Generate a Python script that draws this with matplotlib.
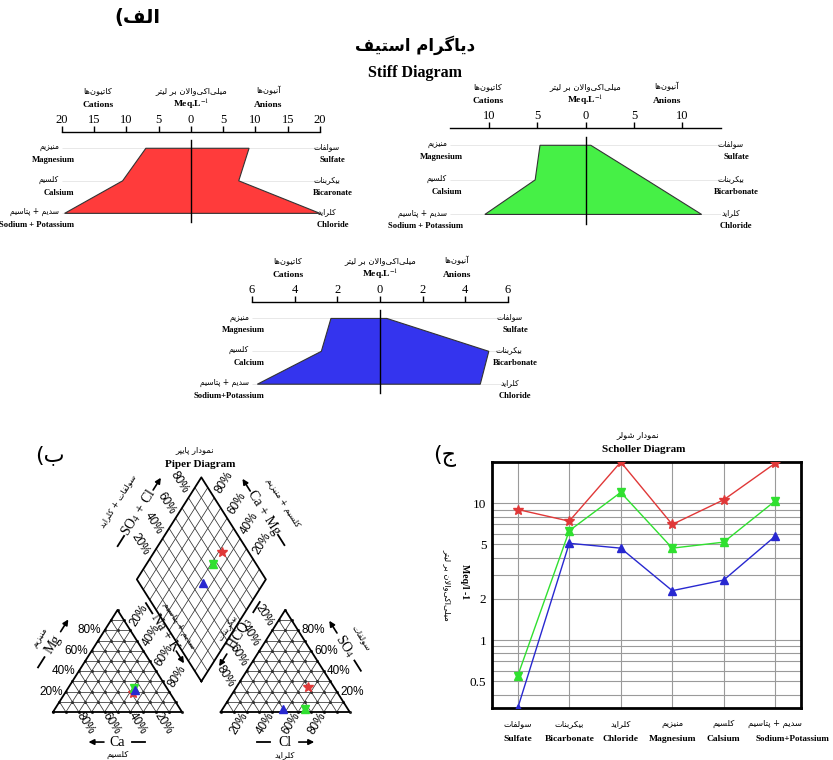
import numpy as np
import matplotlib
matplotlib.use('Agg')
import matplotlib.pyplot as plt
from matplotlib.ticker import FixedLocator, FuncFormatter, NullFormatter

plt.rcParams['font.family'] = 'Liberation Serif'
plt.rcParams['mathtext.fontset'] = 'stix'

# ion concentrations (meq/L), one entry per sample: red, green, blue
mg = [7.0, 4.7, 2.3]
ca = [10.6, 5.2, 2.75]
na_k = [19.6, 10.4, 5.75]
so4 = [9.0, 0.55, 0.32]
hco3 = [7.4, 6.3, 5.1]
cl = [20.0, 12.0, 4.7]

fill_colors = ['#ff3b3b', '#46f046', '#3434ee']
line_colors = ['#e03838', '#30e030', '#2828d0']

# stiff diagram scales
stiff_lim = [20, 14, 6]
stiff_step = [5, 5, 2]
stiff_left_en = [['Magnesium', 'Calsium', 'Sodium + Potassium'],
                 ['Magnesium', 'Calsium', 'Sodium + Potassium'],
                 ['Magnesium', 'Calcium', 'Sodium+Potassium']]
stiff_right_en = [['Sulfate', 'Bicaronate', 'Chloride'],
                  ['Sulfate', 'Bicarbonate', 'Chloride'],
                  ['Sulfate', 'Bicarbonate', 'Chloride']]
cation_fa = ['منیزیم', 'کلسیم', 'سدیم + پتاسیم']
anion_fa = ['سولفات', 'بیکربنات', 'کلراید']

# scholler categories
sch_en = ['Sulfate', 'Bicarbonate', 'Chloride', 'Magnesium', 'Calsium', 'Sodium+Potassium']
sch_fa = ['سولفات', 'بیکربنات', 'کلراید', 'منیزیم', 'کلسیم', 'سدیم + پتاسیم']
sch_ticks = [0.5, 1, 2, 5, 10]

# --- minimal persian shaping (presentation forms + visual order) ---
FORMS = {
    'ا': ('\uFE8D', '\uFE8E'), 'آ': ('\uFE81', '\uFE82'),
    'د': ('\uFEA9', '\uFEAA'), 'ر': ('\uFEAD', '\uFEAE'),
    'ز': ('\uFEAF', '\uFEB0'), 'و': ('\uFEED', '\uFEEE'),
    'لا': ('\uFEFB', '\uFEFC'),
    'ب': ('\uFE8F', '\uFE90', '\uFE91', '\uFE92'),
    'پ': ('\uFB56', '\uFB57', '\uFB58', '\uFB59'),
    'ت': ('\uFE95', '\uFE96', '\uFE97', '\uFE98'),
    'ج': ('\uFE9D', '\uFE9E', '\uFE9F', '\uFEA0'),
    'س': ('\uFEB1', '\uFEB2', '\uFEB3', '\uFEB4'),
    'ش': ('\uFEB5', '\uFEB6', '\uFEB7', '\uFEB8'),
    'ف': ('\uFED1', '\uFED2', '\uFED3', '\uFED4'),
    'ک': ('\uFB8E', '\uFB8F', '\uFB90', '\uFB91'),
    'گ': ('\uFB92', '\uFB93', '\uFB94', '\uFB95'),
    'ل': ('\uFEDD', '\uFEDE', '\uFEDF', '\uFEE0'),
    'م': ('\uFEE1', '\uFEE2', '\uFEE3', '\uFEE4'),
    'ن': ('\uFEE5', '\uFEE6', '\uFEE7', '\uFEE8'),
    'ه': ('\uFEE9', '\uFEEA', '\uFEEB', '\uFEEC'),
    'ی': ('\uFBFC', '\uFBFD', '\uFBFE', '\uFBFF'),
}


def fa(s):
    toks, i = [], 0
    while i < len(s):
        if s[i:i + 2] == 'لا':
            toks.append('لا')
            i += 2
        else:
            toks.append(s[i])
            i += 1
    out = []
    for k, t in enumerate(toks):
        if t not in FORMS:
            if t != '\u200c':
                out.append(t)
            continue
        f = FORMS[t]
        prev = toks[k - 1] if k > 0 else ''
        nxt = toks[k + 1] if k + 1 < len(toks) else ''
        jp = prev in FORMS and len(FORMS[prev]) == 4
        jn = len(f) == 4 and nxt in FORMS
        out.append(f[3] if jp and jn else f[1] if jp else f[2] if jn else f[0])
    return ''.join(reversed(out)).translate(str.maketrans('()', ')('))


FA = 'DejaVu Sans'
W, H = 833, 760
fig = plt.figure(figsize=(W / 100, H / 100), dpi=100)


def box(left, top, right, bottom):
    return [left / W, 1 - bottom / H, (right - left) / W, (bottom - top) / H]


def ftext(px, py, s, **kw):
    fig.text(px / W, 1 - py / H, s, ha='center', va='center', **kw)


# ================= (الف) stiff diagrams =================
ftext(137, 18, fa('الف)'), family=FA, fontsize=14, fontweight='bold')
ftext(415, 45, fa('دیاگرام استیف'), family=FA, fontsize=12, fontweight='bold')
ftext(415, 73, 'Stiff Diagram', fontsize=11.5, fontweight='bold')

stiff_boxes = [(62, 132, 320, 228), (450, 128, 721, 230), (252, 302, 508, 399)]
right_pad = [9, 11, 5]

for k in range(3):
    ax = fig.add_axes(box(*stiff_boxes[k]))
    lim, step = stiff_lim[k], stiff_step[k]
    xs = [-mg[k], -ca[k], -na_k[k], cl[k], hco3[k], so4[k]]
    ys = [0, 1, 2, 2, 1, 0]
    ax.fill(xs, ys, facecolor=fill_colors[k], edgecolor='#333333', lw=0.8, zorder=2)
    ax.hlines([0, 1, 2], -lim, lim, color='#e4e4e4', lw=0.6, zorder=1)
    ax.plot([0, 0], [-0.25, 2.28], color='black', lw=1, zorder=3)
    ax.set_xlim(-lim, lim)
    ax.set_ylim(2.45, -0.5)
    ticks = step * np.arange(-(lim // step), lim // step + 1)
    ax.set_xticks(ticks)
    ax.set_xticklabels([str(abs(t)) for t in ticks])
    ax.xaxis.tick_top()
    ax.tick_params(axis='x', direction='out', length=4, width=1, pad=0.5, labelsize=9)
    ax.set_yticks([])
    for s in ['left', 'right', 'bottom']:
        ax.spines[s].set_visible(False)
    ax.spines['top'].set_linewidth(1)
    ax.patch.set_visible(False)

    heads = [(-0.72 * lim, 'کاتیون\u200cها', 'Cations'), (0, 'میلی\u200cاکی\u200cوالان بر لیتر', None),
             (0.6 * lim, 'آنیون\u200cها', 'Anions')]
    for hx, hfa, hen in heads:
        ax.annotate(fa(hfa), xy=(hx, 1), xycoords=('data', 'axes fraction'), xytext=(0, 30),
                    textcoords='offset points', ha='center', va='center', family=FA, fontsize=6)
        ax.annotate(hen if hen else r'Meq.L$^{-1}$', xy=(hx, 1), xycoords=('data', 'axes fraction'),
                    xytext=(0, 19.5), textcoords='offset points', ha='center', va='center',
                    fontsize=6.8, fontweight='bold')
    for i in range(3):
        ax.annotate(fa(cation_fa[i]), xy=(-lim, i), xytext=(-2, 1), textcoords='offset points',
                    ha='right', va='center', family=FA, fontsize=5.5, annotation_clip=False)
        ax.annotate(stiff_left_en[k][i], xy=(-lim, i), xytext=(9, -8.5), textcoords='offset points',
                    ha='right', va='center', fontsize=6.2, fontweight='bold', annotation_clip=False)
        ax.annotate(fa(anion_fa[i]), xy=(lim, i), xytext=(right_pad[k] - 4, 1), textcoords='offset points',
                    ha='center', va='center', family=FA, fontsize=5.5, annotation_clip=False)
        ax.annotate(stiff_right_en[k][i], xy=(lim, i), xytext=(right_pad[k], -8.5),
                    textcoords='offset points', ha='center', va='center', fontsize=6.2,
                    fontweight='bold', annotation_clip=False)


def sample_marker(ax, x, y, k, ms):
    if k == 0:
        ax.plot(x, y, '*', color=line_colors[k], ms=ms * 1.3, zorder=5)
    elif k == 1:
        ax.plot(x, y, '^', color=line_colors[k], ms=ms, zorder=5)
        ax.plot(x, y, 'v', color=line_colors[k], ms=ms, zorder=5)
    else:
        ax.plot(x, y, '^', color=line_colors[k], ms=ms, zorder=5)


# ================= (ب) piper diagram =================
ftext(50, 455, fa('ب)'), family=FA, fontsize=16)
ftext(195, 450, fa('نمودار پایپر'), family=FA, fontsize=6)
ftext(200, 465, 'Piper Diagram', fontsize=8, fontweight='bold')

ox, oy, sx, sy = 53, 712, 129, 117.8   # pixel origin and pixel per unit
pax = fig.add_axes(box(0, 440, 420, 760))
pax.set_xlim(-ox / sx, (420 - ox) / sx)
pax.set_ylim((oy - 760) / sy, (oy - 440) / sy)
pax.axis('off')

h = np.sqrt(3) / 2
gap = 0.3
rot = np.degrees(np.arctan2(h * sy, 0.5 * sx))
A1, B1, C1 = np.array([0, 0]), np.array([1, 0]), np.array([0.5, h])
A2, B2, C2 = A1 + [1 + gap, 0], B1 + [1 + gap, 0], C1 + [1 + gap, 0]
D0 = np.array([1 + gap / 2, gap * h])
u1, u2 = np.array([-0.5, h]), np.array([0.5, h])
fr = np.arange(1, 10) / 10


def seg(p, q, **kw):
    pax.plot([p[0], q[0]], [p[1], q[1]], **kw)


for A, B, C in [(A1, B1, C1), (A2, B2, C2)]:
    for f in fr:
        seg(A + f * (C - A), B + f * (C - B), color='#333333', lw=0.55)
        seg(A + f * (B - A), C + f * (B - C), color='#333333', lw=0.55)
        seg(A + f * (B - A), A + f * (C - A), color='#333333', lw=0.55)
    pts = np.array([A + i / 10 * (B - A) + j / 10 * (C - A) for i in range(11) for j in range(11 - i)])
    pax.plot(pts[:, 0], pts[:, 1], 'o', ms=1.2, color='#333333')
    pax.plot(*np.array([A, B, C, A]).T, color='black', lw=1.3)
for f in fr:
    seg(D0 + f * u2, D0 + f * u2 + u1, color='#333333', lw=0.55)
    seg(D0 + f * u1, D0 + f * u1 + u2, color='#333333', lw=0.55)
pax.plot(*np.array([D0, D0 + u2, D0 + u1 + u2, D0 + u1, D0]).T, color='black', lw=1.3)

pk = dict(family='Liberation Sans', fontsize=8.5)
for f in [0.2, 0.4, 0.6, 0.8]:
    lab = f'{int(round(f * 100))}%'
    pax.text(0.5 * f - 0.025, f * h, lab, ha='right', va='center', **pk)
    pax.text(2.3 - 0.5 * f + 0.025, f * h, lab, ha='left', va='center', **pk)
    pax.text(1 - f + 0.005, -0.015, lab, rotation=-rot, rotation_mode='anchor', ha='left', va='center', **pk)
    pax.text(1.3 + f - 0.005, -0.015, lab, rotation=rot, rotation_mode='anchor', ha='right', va='center', **pk)
    p = D0 + u1 + f * u2 + 0.05 * u1
    pax.text(*p, lab, rotation=-rot, rotation_mode='anchor', ha='right', va='center', **pk)
    p = D0 + u2 + f * u1 + 0.05 * u2
    pax.text(*p, lab, rotation=rot, rotation_mode='anchor', ha='left', va='center', **pk)
    pax.text(0.565 + 0.5 * f, 0.13 + h * (1 - f), lab, rotation=rot, ha='center', va='center', **pk)
    pax.text(1.235 + 0.5 * (1 - f), 0.13 + h * (1 - f), lab, rotation=-rot, ha='center', va='center', **pk)


def piper_axis(mid, e, n, text, text_fa, r, t_off, fa_off, arr):
    mid, e, n = np.asarray(mid), np.asarray(e), np.asarray(n)
    p = mid + t_off * n
    pax.text(*p, text, rotation=r, ha='center', va='center', fontsize=10)
    q = mid + fa_off * n
    pax.text(*q, fa(text_fa), rotation=r, ha='center', va='center', family=FA, fontsize=6)
    a = p + arr * e
    pax.annotate('', xy=a + 0.06 * e, xytext=a - 0.06 * e,
                 arrowprops=dict(arrowstyle='-|>', color='black', lw=1.2, mutation_scale=8,
                                 shrinkA=0, shrinkB=0))
    d = p - arr * e
    seg(d - 0.05 * e, d + 0.05 * e, color='black', lw=1.3)


piper_axis((0.25, h / 2), (0.5, h), (-h, 0.5), 'Mg', 'منیزیم', rot, 0.29, 0.41, 0.18)
piper_axis((0.5, 0), (-1, 0), (0, -1), 'Ca', 'کلسیم', 0, 0.255, 0.365, 0.165)
piper_axis((1.8, 0), (1, 0), (0, -1), 'Cl', 'کلراید', 0, 0.255, 0.365, 0.165)
piper_axis((2.05, h / 2), (-0.5, h), (h, 0.5), 'SO$_4$', 'سولفات', -rot, 0.25, 0.40, 0.19)
piper_axis((0.9, 0.26 + 1.5 * h), (0.5, h), (-h, 0.5), 'SO$_4$ + Cl', 'سولفات + کلراید', rot, 0.27, 0.46, 0.28)
piper_axis((1.4, 0.26 + 1.5 * h), (-0.5, h), (h, 0.5), 'Ca + Mg', 'کلسیم + منیزیم', -rot, 0.27, 0.44, 0.27)
piper_axis((0.9, 0.26 + 0.5 * h), (0.5, -h), (-h, -0.5), 'Na + K', 'سدیم + پتاسیم', -rot, 0.04, -0.09, 0.24)
piper_axis((1.4, 0.26 + 0.5 * h), (-0.5, -h), (h, -0.5), 'HCO$_3$', 'بیکربنات', rot, 0.055, -0.06, 0.26)

for k in range(3):
    tc = mg[k] + ca[k] + na_k[k]
    ta = so4[k] + hco3[k] + cl[k]
    pc = A1 + na_k[k] / tc * (B1 - A1) + mg[k] / tc * (C1 - A1)
    pa = A2 + cl[k] / ta * (B2 - A2) + so4[k] / ta * (C2 - A2)
    pd = D0 + (mg[k] + ca[k]) / tc * u1 + (so4[k] + cl[k]) / ta * u2
    for p in (pc, pa, pd):
        sample_marker(pax, p[0], p[1], k, 6)

# ================= (ج) scholler diagram =================
ftext(445, 455, fa('ج)'), family=FA, fontsize=16)
ftext(638, 435, fa('نمودار شولر'), family=FA, fontsize=6)
ftext(644, 449, 'Scholler Diagram', fontsize=8, fontweight='bold')
ftext(448, 585, fa('میلی\u200cاکی\u200cوالان بر لیتر'), family=FA, fontsize=6, rotation=270)
ftext(465, 582, 'Meq/l -1', fontsize=7, fontweight='bold', rotation=270)

sax = fig.add_axes(box(492, 462, 801, 708))
xpos = np.arange(len(sch_en))
all_vals = []
for k in range(3):
    vals = [so4[k], hco3[k], cl[k], mg[k], ca[k], na_k[k]]
    all_vals += vals
    sax.plot(xpos, vals, color=line_colors[k], lw=1, zorder=4)
    sample_marker(sax, xpos, vals, k, 6)
sax.set_yscale('log')
sax.set_ylim(min(all_vals), max(all_vals))
sax.set_xlim(-0.5, len(sch_en) - 0.5)
sax.yaxis.set_major_locator(FixedLocator(sch_ticks))
sax.yaxis.set_major_formatter(FuncFormatter(lambda v, p: f'{v:g}'))
sax.yaxis.set_minor_formatter(NullFormatter())
sax.grid(True, which='both', axis='y', color='#9a9a9a', lw=0.8)
sax.set_xticks(xpos)
sax.set_xticklabels([])
sax.grid(True, axis='x', color='#9a9a9a', lw=0.8)
sax.tick_params(which='both', length=0, labelsize=9.5, pad=4)
sax.set_axisbelow(True)
for s in sax.spines.values():
    s.set_linewidth(2)
for i in range(len(sch_en)):
    last = i == len(sch_en) - 1
    sax.annotate(fa(sch_fa[i]), xy=(xpos[i], 0), xycoords=('data', 'axes fraction'), xytext=(0, -11),
                 textcoords='offset points', ha='center', va='center', family=FA, fontsize=6)
    sax.annotate(sch_en[i], xy=(xpos[i], 0), xycoords=('data', 'axes fraction'),
                 xytext=(-14 if last else 0, -22), textcoords='offset points',
                 ha='left' if last else 'center', va='center', fontsize=6.5 if last else 6.8,
                 fontweight='bold', annotation_clip=False)

fig.savefig('out.png', dpi=100)
